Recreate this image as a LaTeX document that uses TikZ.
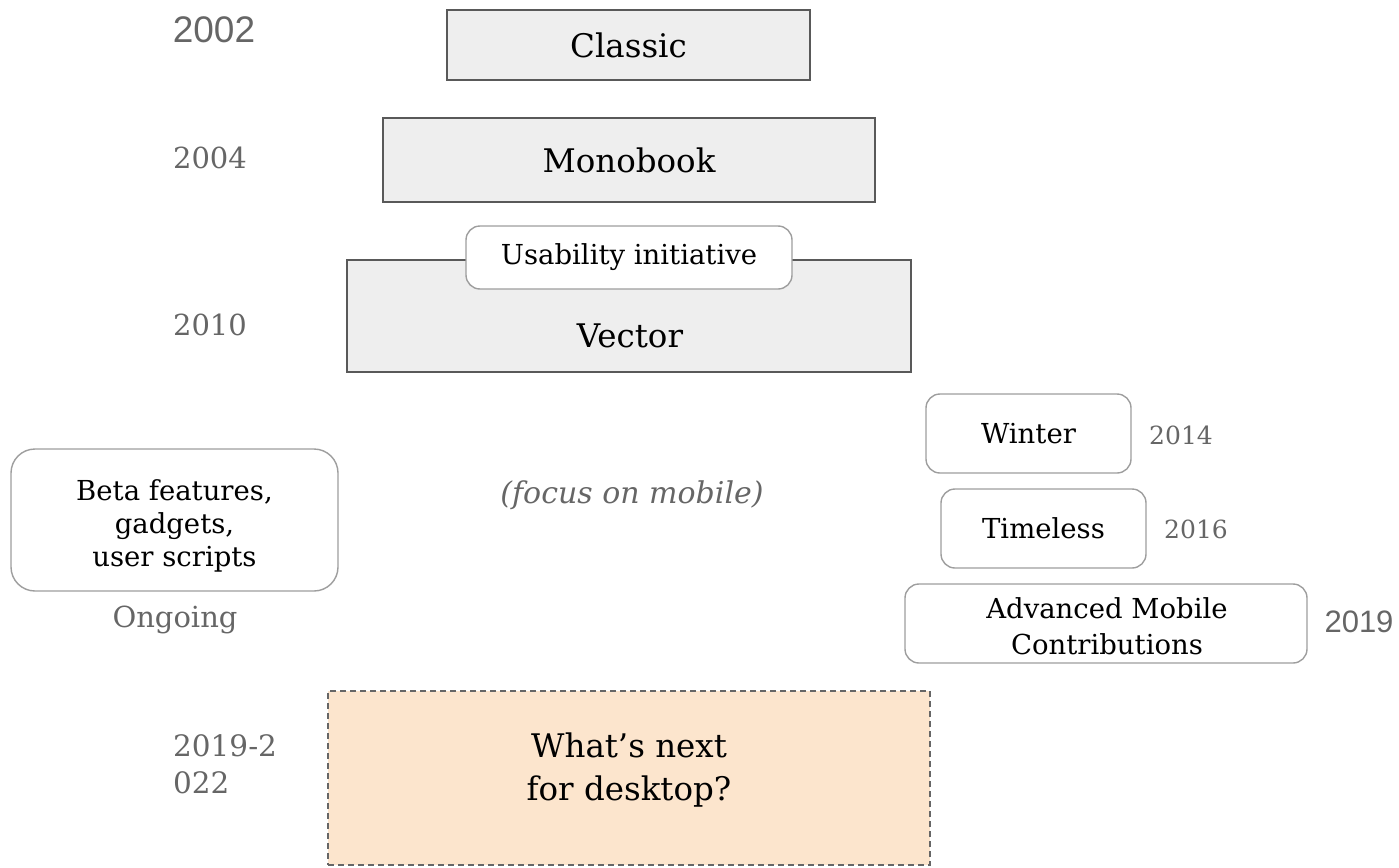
\documentclass[tikz,border=0pt]{standalone}
\usepackage{fontspec}
\setmainfont{DejaVu Serif}
\newfontfamily\yearsans{Liberation Sans}
\usetikzlibrary{positioning}
\definecolor{boxfill}{HTML}{EEEEEE}
\definecolor{boxline}{HTML}{595959}
\definecolor{softline}{HTML}{9E9E9E}
\definecolor{yeargray}{HTML}{666666}
\definecolor{peach}{HTML}{FCE5CD}
\tikzset{
  graybox/.style={draw=boxline, fill=boxfill, line width=1.4pt, inner sep=0pt},
  roundbox/.style={draw=softline, fill=white, line width=1.4pt, rounded corners=14pt, inner sep=0pt, align=center},
  bigtext/.style={font=\fontsize{32.5}{38}\selectfont},
  midtext/.style={font=\fontsize{27.5}{33}\selectfont},
  yearserif/.style={text=yeargray, font=\fontsize{29}{34}\selectfont, inner sep=0pt},
  yearsansstyle/.style={text=yeargray, font=\yearsans\fontsize{37}{40}\selectfont, inner sep=0pt},
  nextbox/.style={draw=yeargray, fill=peach, line width=1.4pt, dash pattern=on 6pt off 4pt, inner sep=0pt, align=center}
}
\begin{document}
\begin{tikzpicture}[x=1pt,y=-1pt]
\useasboundingbox (0,0) rectangle (1399,867);
% main skins
\node[graybox, bigtext, minimum width=363pt, minimum height=70pt] (classic) at (628.5,45) {Classic};
\node[graybox, bigtext, minimum width=492pt, minimum height=84pt] (monobook) at (629,160) {Monobook};
\node[graybox, minimum width=564pt, minimum height=112pt] (vector) at (629,316) {};
\node[bigtext, inner sep=0pt] (vectortext) at (630,336) {Vector};
\node[roundbox, midtext, minimum width=326pt, minimum height=63pt] (usability) at (629,257.5) {Usability initiative};
% years left
\node[yearsansstyle] (y2002) at (214,30) {2002};
\node[yearserif] (y2004) at (210,158) {2004};
\node[yearserif] (y2010) at (210,325) {2010};
% beta features
\node[roundbox, rounded corners=24pt, minimum width=327pt, minimum height=142pt] (beta) at (174.5,520) {};
\node[midtext, align=center, inner sep=0pt] (betatext) at (174.5,526) {Beta features,\\gadgets,\\user scripts};
\node[yearserif] (ongoing) at (175,620) {Ongoing};
% focus on mobile
\node[text=yeargray, font=\itshape\fontsize{30}{34}\selectfont, inner sep=0pt] (focus) at (632,495) {(focus on mobile)};
% mobile skins
\node[roundbox, midtext, minimum width=205pt, minimum height=79pt] (winter) at (1028.5,433.5) {Winter};
\node[yearserif, font=\fontsize{25}{30}\selectfont] (y2014) at (1181,435) {2014};
\node[roundbox, midtext, minimum width=205pt, minimum height=79pt] (timeless) at (1043.5,528.5) {Timeless};
\node[yearserif, font=\fontsize{25}{30}\selectfont] (y2016) at (1196,529) {2016};
\node[roundbox, minimum width=402pt, minimum height=79pt] (amc) at (1106,623.5) {};
\node[font=\fontsize{27.5}{36}\selectfont, align=center, inner sep=0pt] (amctext) at (1107,626) {Advanced Mobile\\Contributions};
\node[yearsansstyle, font=\yearsans\fontsize{31}{36}\selectfont] (y2019) at (1359,622) {2019};
% what's next
\node[nextbox, minimum width=602pt, minimum height=174pt] (next) at (629,778) {};
\node[font=\fontsize{32.5}{43}\selectfont, align=center, inner sep=0pt] (nexttext) at (629,770) {What’s next\\for desktop?};
\node[yearserif, align=left, anchor=west, font=\fontsize{29.5}{37}\selectfont] (y2019b) at (173,764) {2019-2\\022};
\end{tikzpicture}
\end{document}
